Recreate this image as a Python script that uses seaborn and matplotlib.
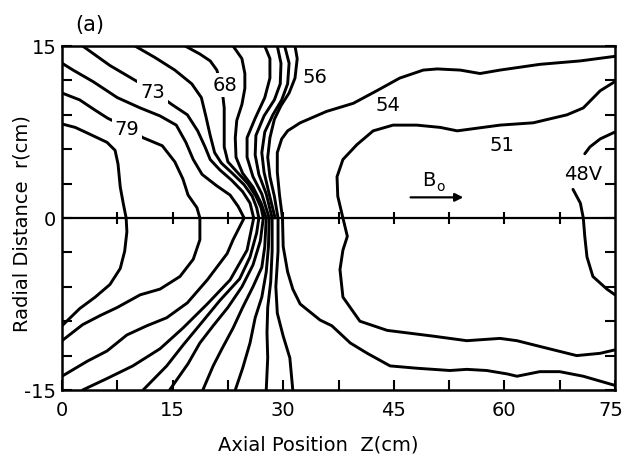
import matplotlib
matplotlib.use("Agg")
import matplotlib.pyplot as plt
import matplotlib.transforms as mtransforms
import numpy as np
import pandas as pd
import seaborn as sns
from matplotlib.ticker import MultipleLocator

sns.set_theme(style="ticks")
plt.rcParams['font.family'] = ['DejaVu Sans']
plt.rcParams['text.color'] = 'black'
plt.rcParams['axes.labelcolor'] = 'black'
plt.rcParams['xtick.color'] = 'black'
plt.rcParams['ytick.color'] = 'black'

# ---- equipotential contours (Z in cm, r in cm) ----
z_82 = [0, 1.8, 3.8, 6.1, 7.2, 7.6, 7.9, 8.3, 8.7, 8.8, 8.5, 7.9, 6.5, 4.5, 2.4, 0.8, 0]
r_82 = [8.2, 7.9, 7.3, 6.6, 5.9, 4.7, 2.7, 1.3, 0, -1.2, -2.9, -4.4, -5.8, -6.9, -7.9, -8.9, -9.4]

z_79 = [0, 2.4, 4.5, 6.2, 8.8, 11.0, 13.6, 15.3, 16.4, 17.1, 18.3, 18.7, 18.7, 17.8, 16.0, 13.3, 10.6, 7.5, 5.2, 2.8, 0]
r_79 = [10.9, 10.3, 9.4, 8.7, 7.9, 7.0, 6.3, 4.9, 3.4, 2.0, 0.9, 0, -1.9, -3.6, -5.1, -6.2, -6.7, -7.8, -8.5, -9.3, -10.7]

z_76 = [0, 1.5, 4.2, 7.5, 10.6, 13.3, 15.5, 16.8, 17.8, 19.0, 21.0, 22.8, 23.9, 24.7, 23.2, 22.4, 19.7, 17.0, 14.2, 11.5, 8.8, 6.1, 3.4, 0]
r_76 = [13.5, 12.9, 11.9, 10.5, 9.6, 8.9, 8.1, 6.6, 5.1, 3.8, 2.8, 2.0, 1.0, 0, -1.9, -3.1, -5.4, -7.4, -8.7, -9.4, -10.2, -11.6, -12.5, -13.8]

z_73 = [2.8, 6.5, 10.2, 12.3, 14.9, 17.0, 18.4, 19.4, 20.1, 21.4, 23.0, 24.5, 25.5, 26.0, 25.1, 22.8, 19.7, 16.4, 13.3, 9.6, 6.1, 2.8]
r_73 = [15.0, 13.3, 11.9, 11.1, 9.9, 9.0, 7.6, 6.2, 5.1, 4.2, 3.3, 2.3, 1.3, 0, -2.8, -5.4, -7.5, -9.6, -11.4, -12.9, -14.0, -15.0]

z_70 = [9.9, 12.6, 15.3, 17.6, 18.9, 19.5, 20.1, 20.7, 21.6, 23.1, 24.7, 25.8, 26.4, 26.7, 26.4, 25.5, 24.1, 21.4, 19.1, 16.4, 14.2, 11.0]
r_70 = [15.0, 14.0, 12.9, 11.7, 10.5, 8.9, 7.2, 5.7, 4.8, 3.9, 2.9, 1.9, 0.9, 0, -1.3, -3.4, -5.3, -7.2, -9.0, -11.1, -12.9, -15.0]

z_68 = [16.7, 18.7, 20.1, 21.0, 21.7, 22.0, 22.0, 22.0, 22.5, 23.9, 25.2, 26.3, 27.0, 27.3, 26.9, 25.9, 24.4, 22.5, 20.5, 18.7, 17.1, 14.6]
r_68 = [15.0, 14.3, 13.7, 12.9, 11.3, 9.6, 7.9, 6.2, 4.9, 3.9, 3.0, 1.9, 0.9, 0, -2.0, -4.1, -6.0, -7.8, -9.4, -10.9, -12.7, -15.0]

z_65 = [23.2, 24.4, 24.8, 24.8, 24.4, 23.7, 23.5, 23.6, 24.5, 25.9, 27.0, 27.7, 27.5, 27.1, 25.9, 24.5, 23.2, 21.7, 20.5, 19.1]
r_65 = [15.0, 13.9, 12.6, 11.3, 9.9, 8.5, 7.0, 5.3, 3.9, 2.7, 1.3, 0, -2.5, -4.3, -6.0, -7.8, -9.6, -11.4, -12.9, -15.0]

z_62 = [27.5, 28.2, 28.2, 27.5, 26.2, 25.1, 25.1, 25.9, 27.1, 28.1, 28.0, 27.7, 27.1, 26.2, 25.5, 24.5, 23.5]
r_62 = [15.0, 13.9, 12.2, 10.5, 8.7, 7.0, 5.3, 3.6, 2.1, 0, -2.5, -4.7, -6.9, -8.7, -10.9, -13.1, -15.0]

z_60 = [29.2, 29.7, 29.6, 28.8, 27.4, 26.3, 26.2, 26.7, 27.7, 28.5, 28.5, 28.3, 27.9, 27.8, 27.9, 27.7]
r_60 = [15.0, 13.5, 11.7, 10.3, 8.9, 7.2, 5.5, 3.8, 2.1, 0, -2.9, -5.6, -7.8, -10.0, -12.2, -15.0]

z_58 = [30.2, 30.8, 30.6, 29.8, 28.6, 27.5, 27.1, 27.4, 28.1, 28.9]
r_58 = [15.0, 13.5, 11.7, 10.3, 9.0, 7.5, 5.7, 4.0, 2.1, 0]

z_56 = [31.6, 31.9, 31.6, 30.8, 29.7, 28.8, 28.2, 27.9, 28.2, 28.8, 29.3, 29.3, 29.0, 29.2, 30.0, 30.9, 31.3]
r_56 = [15.0, 13.9, 12.2, 10.9, 9.8, 8.6, 7.0, 5.3, 3.6, 1.9, 0, -2.9, -6.0, -8.3, -10.3, -12.2, -15.0]

z_54 = [75.0, 70.3, 64.8, 59.4, 56.7, 54.0, 50.9, 49.0, 45.8, 42.7, 39.5, 35.9, 32.3, 30.6, 29.8, 29.2, 29.2, 29.5, 29.9,
        30.0, 30.6, 31.3, 32.3, 35.0, 36.6, 39.1, 41.4, 44.5, 48.1, 52.6, 54.9, 57.6, 60.4, 61.7, 64.8, 67.5, 70.7, 75.0]
r_54 = [14.1, 13.7, 13.4, 12.9, 12.6, 12.9, 13.0, 12.9, 12.2, 11.1, 10.0, 9.3, 8.3, 7.6, 6.9, 5.7, 4.0, 2.0, 0,
        -2.5, -4.7, -6.2, -7.5, -8.9, -9.4, -10.9, -11.8, -12.9, -13.1, -13.3, -13.2, -13.3, -13.6, -13.8, -13.4, -13.4, -13.8, -14.6]

z_51 = [75.0, 73.0, 70.7, 68.5, 63.9, 59.4, 53.6, 51.3, 48.1, 44.9, 42.2, 40.0, 38.1, 37.3, 37.4, 38.1,
        38.7, 38.1, 37.7, 38.1, 40.4, 44.1, 50.3, 54.9, 59.4, 61.7, 64.8, 69.8, 73.0, 75.0]
r_51 = [11.9, 11.1, 9.6, 9.0, 8.3, 8.1, 7.6, 7.9, 8.1, 8.1, 7.6, 6.4, 5.1, 3.6, 1.9, 0,
        -1.6, -2.8, -4.5, -6.9, -9.0, -9.8, -10.3, -10.7, -10.5, -10.7, -11.2, -12.0, -11.8, -11.5]

z_48a = [75.0, 73.0, 71.6, 70.9]
r_48a = [7.5, 6.9, 6.2, 5.6]
z_48b = [69.3, 70.3, 70.7, 70.9, 71.2, 72.0, 73.9, 75.0]
r_48b = [2.5, 1.3, 0, -1.6, -3.4, -5.1, -6.2, -6.7]

# contour labels
label_text = ["79", "73", "68", "56", "54", "51", "48V"]
label_z = [8.8, 12.3, 22.1, 34.3, 44.2, 59.7, 70.7]
label_r = [7.8, 11.0, 11.6, 12.3, 9.9, 6.4, 3.9]
label_boxed = [True, True, True, False, False, False, False]

x_ticks = [0, 15, 30, 45, 60, 75]
y_ticks = [-15, 0, 15]
y_ticklabels = ["-15", "0", "15"]

segments = [
    ("82", z_82, r_82), ("79", z_79, r_79), ("76", z_76, r_76), ("73", z_73, r_73),
    ("70", z_70, r_70), ("68", z_68, r_68), ("65", z_65, r_65), ("62", z_62, r_62),
    ("60", z_60, r_60), ("58", z_58, r_58), ("56", z_56, r_56), ("54", z_54, r_54),
    ("51", z_51, r_51), ("48a", z_48a, r_48a), ("48b", z_48b, r_48b),
]
rows = []
for seg_id, (name, zs, rs) in enumerate(segments):
    for k, (z, r) in enumerate(zip(zs, rs)):
        rows.append({"Z": z, "r": r, "seg": seg_id, "order": k})
df = pd.DataFrame(rows)

W, H = 622, 456
fig = plt.figure(figsize=(W / 100, H / 100), dpi=100)
fig.patch.set_facecolor("white")
x0, x1, yt, yb = 62, 615, 47, 391
ax = fig.add_axes([x0 / W, 1 - yb / H, (x1 - x0) / W, (yb - yt) / H])
ax.set_facecolor("white")

sns.lineplot(data=df, x="Z", y="r", units="seg", estimator=None, sort=False,
             color="black", linewidth=2.1, ax=ax, legend=False)

ax.set_xlim(0, 75)
ax.set_ylim(-15, 15)
ax.axhline(0, color="black", lw=1.6, zorder=3)
r0_ticks = np.arange(7.5, 75, 7.5)
ax.plot(r0_ticks, np.zeros_like(r0_ticks), ls="none", marker="|", ms=9, mew=1.5,
        color="black", zorder=3)

ax.set_xticks(x_ticks)
ax.set_xticklabels([str(t) for t in x_ticks])
ax.xaxis.set_minor_locator(MultipleLocator(7.5))
ax.set_yticks(y_ticks)
ax.set_yticklabels(y_ticklabels)
ax.yaxis.set_minor_locator(MultipleLocator(3))
ax.tick_params(which="both", direction="in", length=7, width=1.5, color="black",
               left=True, right=True, bottom=True, top=False)
ax.tick_params(axis="x", labelsize=14, pad=7, labelcolor="black")
ax.tick_params(axis="y", labelsize=14, pad=4, labelcolor="black")
for sp in ax.spines.values():
    sp.set_visible(True)
    sp.set_linewidth(1.8)
    sp.set_color("black")
ax.set_xlabel("")
ax.set_ylabel("")

# keep the last x tick label ("75") inside the canvas, as in the reference
last = ax.get_xticklabels()[-1]
last.set_ha("right")
last.set_transform(last.get_transform() +
                   mtransforms.ScaledTranslation(6 / 72, 0, fig.dpi_scale_trans))

for t, z, r, boxed in zip(label_text, label_z, label_r, label_boxed):
    kw = {}
    if boxed:
        kw["bbox"] = dict(boxstyle="square,pad=0.15", fc="white", ec="none")
    ax.text(z, r, t, fontsize=14, ha="center", va="center", color="black", zorder=4, **kw)

# B0 arrow
ax.text(49.8, 3.4, "B", fontsize=14, ha="center", va="center", color="black")
ax.text(51.4, 2.8, "o", fontsize=10, ha="center", va="center", color="black")
ax.annotate("", xy=(54.8, 1.8), xytext=(46.9, 1.8),
            arrowprops=dict(arrowstyle="-|>", color="black", lw=1.6, mutation_scale=12))

fig.text(318 / W, 1 - 445 / H, "Axial Position  Z(cm)", fontsize=14, ha="center", va="center",
         color="black")
fig.text(22 / W, 1 - 224 / H, "Radial Distance  r(cm)", fontsize=14, ha="center", va="center",
         rotation=90, color="black")
fig.text(90 / W, 1 - 25 / H, "(a)", fontsize=15, ha="center", va="center", color="black")

fig.savefig("out.png", dpi=100, facecolor="white")
